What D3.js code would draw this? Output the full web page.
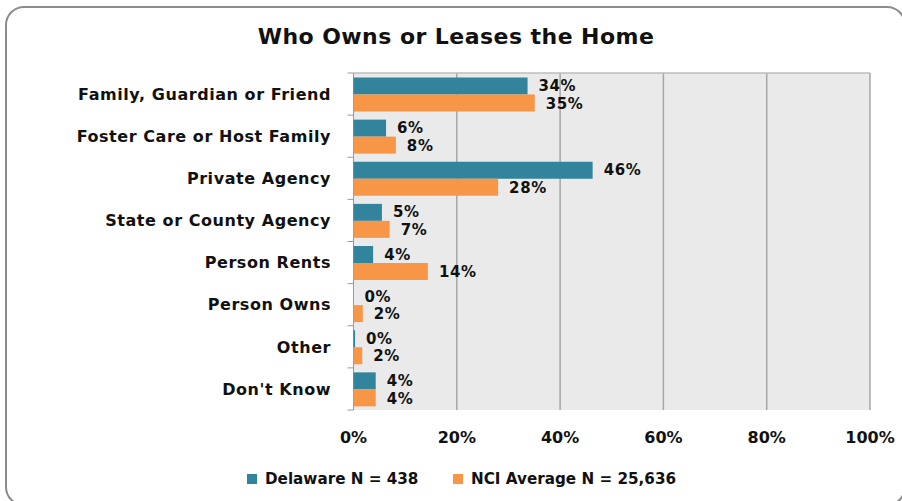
<!DOCTYPE html>
<html>
<head>
<meta charset="utf-8">
<script src="https://cdn.jsdelivr.net/npm/d3@7"></script>
<style>
  body { margin: 0; background: #fff; }
  svg { display: block; font-family: "DejaVu Sans", Verdana, sans-serif; font-weight: bold; }
</style>
</head>
<body>
<svg id="chart" width="902" height="501"></svg>
<script>
var categories = ["Family, Guardian or Friend", "Foster Care or Host Family", "Private Agency",
                  "State or County Agency", "Person Rents", "Person Owns", "Other", "Don't Know"];
var delaware = [33.7, 6.3, 46.3, 5.5, 3.8, 0, 0.3, 4.3];
var nciAvg   = [35.1, 8.2, 28, 7, 14.4, 1.8, 1.7, 4.3];
var delawareLabels = ["34%", "6%", "46%", "5%", "4%", "0%", "0%", "4%"];
var nciLabels      = ["35%", "8%", "28%", "7%", "14%", "2%", "2%", "4%"];
var seriesNames = ["Delaware N = 438", "NCI Average N = 25,636"];
var ticks = [0, 20, 40, 60, 80, 100];

var teal = "#31849B", orange = "#F79646";

var svg = d3.select("#chart");

// outer rounded frame
svg.append("rect")
    .attr("x", 6).attr("y", 7)
    .attr("width", 899).attr("height", 498)
    .attr("rx", 18)
    .attr("fill", "none")
    .attr("stroke", "#8c8c8c")
    .attr("stroke-width", 2);

svg.append("text")
    .attr("x", 456).attr("y", 44)
    .attr("text-anchor", "middle")
    .attr("font-size", 22)
    .attr("letter-spacing", 0.45)
    .attr("fill", "#111")
    .text("Who Owns or Leases the Home");

var x = d3.scaleLinear().domain([0, 100]).range([353.5, 870]);
var y = d3.scaleBand().domain(categories).range([73, 410]);

// plot background
svg.append("rect")
    .attr("x", x(0)).attr("y", 73)
    .attr("width", x(100) - x(0)).attr("height", 337)
    .attr("fill", "#eaeaea");

// gridlines
svg.selectAll("line.grid")
    .data(ticks.slice(1))
    .enter()
    .append("line")
    .attr("class", "grid")
    .attr("x1", x).attr("x2", x)
    .attr("y1", 73).attr("y2", 410)
    .attr("stroke", "#a6a6a6")
    .attr("stroke-width", 1.5);

svg.append("line")
    .attr("x1", x(0)).attr("x2", x(100))
    .attr("y1", 73).attr("y2", 73)
    .attr("stroke", "#bdbdbd").attr("stroke-width", 1.5);

// y axis line and ticks at band edges
svg.append("line")
    .attr("x1", x(0)).attr("x2", x(0))
    .attr("y1", 73).attr("y2", 410)
    .attr("stroke", "#9a9a9a").attr("stroke-width", 1);

var edges = categories.map(c => y(c)).concat([410]);
svg.selectAll("line.ytick")
    .data(edges)
    .enter()
    .append("line")
    .attr("x1", x(0) - 6).attr("x2", x(0))
    .attr("y1", d => d).attr("y2", d => d)
    .attr("stroke", "#9a9a9a");

var bh = 17;
var groups = svg.selectAll("g.cat")
    .data(categories)
    .enter()
    .append("g")
    .attr("transform", d => "translate(0," + y(d) + ")");

groups.append("rect")
    .attr("x", x(0))
    .attr("y", 4.5)
    .attr("width", (d, i) => x(delaware[i]) - x(0))
    .attr("height", bh)
    .attr("fill", teal);

groups.append("rect")
    .attr("x", x(0))
    .attr("y", 4.5 + bh)
    .attr("width", (d, i) => x(nciAvg[i]) - x(0))
    .attr("height", bh)
    .attr("fill", orange);

groups.append("text")
    .attr("x", (d, i) => x(delaware[i]) + 11)
    .attr("y", 4.5 + bh / 2 - 0.3)
    .attr("dy", "0.36em")
    .attr("font-size", 15)
    .attr("letter-spacing", 0.6)
    .attr("fill", "#111")
    .text((d, i) => delawareLabels[i]);

groups.append("text")
    .attr("x", (d, i) => x(nciAvg[i]) + 11)
    .attr("y", 4.5 + bh * 1.5 + 0.3)
    .attr("dy", "0.36em")
    .attr("font-size", 15)
    .attr("letter-spacing", 0.6)
    .attr("fill", "#111")
    .text((d, i) => nciLabels[i]);

groups.append("text")
    .attr("x", 331)
    .attr("y", y.bandwidth() / 2)
    .attr("dy", "0.36em")
    .attr("text-anchor", "end")
    .attr("font-size", 16)
    .attr("letter-spacing", 0.55)
    .attr("fill", "#111")
    .text(d => d);

// x tick labels
svg.selectAll("text.xt")
    .data(ticks)
    .enter()
    .append("text")
    .attr("x", x)
    .attr("y", 437)
    .attr("dy", "0.36em")
    .attr("text-anchor", "middle")
    .attr("font-size", 16)
    .attr("fill", "#111")
    .text(d => d + "%");

// legend
var legX = [247, 453];
var leg = svg.selectAll("g.leg")
    .data(seriesNames)
    .enter()
    .append("g")
    .attr("transform", (d, i) => "translate(" + legX[i] + ",479)");

leg.append("rect")
    .attr("x", 0).attr("y", -5)
    .attr("width", 10).attr("height", 10)
    .attr("fill", (d, i) => i === 0 ? teal : orange);

leg.append("text")
    .attr("x", 18)
    .attr("dy", "0.36em")
    .attr("font-size", 15.2)
    .attr("fill", "#111")
    .text(d => d);
</script>
</body>
</html>
